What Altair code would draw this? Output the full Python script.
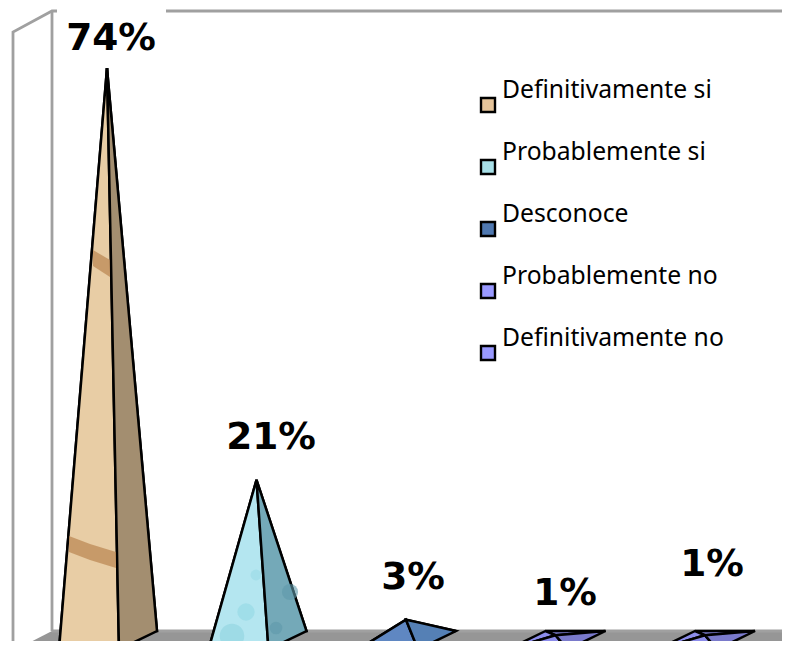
import altair as alt
import pandas as pd

categories = ["Definitivamente si", "Probablemente si", "Desconoce", "Probablemente no", "Definitivamente no"]
values = [74, 21, 3, 1, 1]
left_colors = ["#E8CDA5", "#B4E6F0", "#5F87C2", "#8C8CEA", "#8C8CEA"]
right_colors = ["#A38E70", "#74A9B8", "#5580B5", "#7A7ACB", "#7A7ACB"]
legend_colors = ["#E6C49A", "#A8E0E8", "#4F78B0", "#9999FF", "#9999FF"]
value_labels = ["74%", "21%", "3%", "1%", "1%"]
label_x = [111, 271, 413, 565, 712]
label_y = [50, 449, 589, 605, 576]

W, H = 774, 633
xs = alt.Scale(domain=[8, 782], range=[0, W])
ys = alt.Scale(domain=[641, 8], range=[H, 0])
X = alt.X("x:Q", scale=xs, axis=None)
Y = alt.Y("y:Q", scale=ys, axis=None)
Y2 = alt.Y2("y2:Q")


def tri(pid, fill, a, b, c):
    pts = sorted([a, b, c])
    (x0, y0), (x1, y1), (x2, y2) = pts
    mid = y0 + (y2 - y0) * (x1 - x0) / (x2 - x0)
    return [
        dict(poly=pid, fill=fill, x=x0, y=y0, y2=y0),
        dict(poly=pid, fill=fill, x=x1, y=y1, y2=mid),
        dict(poly=pid, fill=fill, x=x2, y=y2, y2=y2),
    ]


back_rows, front_rows = [], []
for i, v in enumerate(values):
    rx = 157 + 149.5 * i
    R = (rx, 631.0)
    B = (rx - 60, 631.0)
    F = (rx - 38, 649.5)
    L = (rx - 98, 649.5)
    A = (rx - 50, 643 - 7.77 * v)
    back_rows += tri(f"{i}a", right_colors[i], B, A, R)
    back_rows += tri(f"{i}b", left_colors[i], L, B, A)
    front_rows += tri(f"{i}c", left_colors[i], L, A, F)
    front_rows += tri(f"{i}d", right_colors[i], A, F, R)

face = dict(stroke="black", strokeWidth=2.5, clip=True, interpolate="linear")
enc = dict(x=X, y=Y, y2=Y2, detail="poly:N", color=alt.Color("fill:N", scale=None))
back = alt.Chart(pd.DataFrame(back_rows)).mark_area(**face).encode(**enc)
front = alt.Chart(pd.DataFrame(front_rows)).mark_area(**face).encode(**enc)

floor = alt.Chart(pd.DataFrame({
    "x": [17, 52, 775, 790], "y": [649, 631, 631, 631], "y2": [649, 649, 649, 636],
})).mark_area(color="#969696", clip=True).encode(x=X, y=Y, y2=Y2)

walls = alt.Chart(pd.DataFrame({
    "g": ["a"] * 4 + ["b"] * 2 + ["c"] * 2 + ["d"] * 2,
    "o": [0, 1, 2, 3, 0, 1, 0, 1, 0, 1],
    "x": [13, 13, 52, 57, 52, 52, 166, 790, 52, 790],
    "y": [649, 32, 11, 11, 11, 631, 11, 11, 631, 631],
})).mark_line(color="#A0A0A0", strokeWidth=2.8, clip=True).encode(
    x=X, y=Y, detail="g:N", order="o:Q")

edge = alt.Chart(pd.DataFrame({"x": [775, 790], "y": [649, 636]})).mark_line(
    color="black", strokeWidth=2.5, clip=True).encode(x=X, y=Y)

bands = alt.Chart(pd.DataFrame([
    dict(poly="b1", x=93, y=250, y2=266), dict(poly="b1", x=110, y=260, y2=277),
    dict(poly="b2", x=69, y=536, y2=552), dict(poly="b2", x=90, y=544, y2=560),
    dict(poly="b2", x=116, y=552, y2=568),
])).mark_area(color="#B98550", opacity=0.7, clip=True).encode(x=X, y=Y, y2=Y2, detail="poly:N")

bubbles = alt.Chart(pd.DataFrame({
    "x": [232, 246, 256, 276, 290],
    "y": [636, 612, 575, 628, 592],
    "r": [600, 300, 120, 160, 260],
    "c": ["#8FD3E0", "#93D8E4", "#9ADBE6", "#5F99AA", "#5F99AA"],
})).mark_circle(opacity=0.6, clip=True).encode(
    x=X, y=Y, size=alt.Size("r:Q", scale=None), color=alt.Color("c:N", scale=None))

labels = alt.Chart(pd.DataFrame({"x": label_x, "y": label_y, "t": value_labels})).mark_text(
    font="DejaVu Sans", fontWeight="bold", fontSize=37.5, align="center", baseline="alphabetic", color="black",
).encode(x=X, y=Y, text="t:N")

legend_df = pd.DataFrame({
    "t": categories, "c": legend_colors,
    "x": [488] * 5, "xt": [502] * 5,
    "y": [105 + 62 * i for i in range(5)],
    "yt": [98 + 62 * i for i in range(5)],
})
legend_sym = alt.Chart(legend_df).mark_square(size=196, stroke="black", strokeWidth=2.4, opacity=1).encode(
    x=X, y=Y, color=alt.Color("c:N", scale=None))
legend_txt = alt.Chart(legend_df).mark_text(
    font="Noto Sans", fontSize=24.7, align="left", baseline="alphabetic", color="black",
).encode(x=alt.X("xt:Q", scale=xs, axis=None), y=alt.Y("yt:Q", scale=ys, axis=None), text="t:N")

chart = alt.layer(floor, walls, edge, back, front, bands, bubbles, labels, legend_sym, legend_txt).properties(
    width=W, height=H, padding=0, autosize=alt.AutoSizeParams(type="none"),
).configure_view(stroke=None)

chart.save("out.html", embed_options={"renderer": "svg", "actions": False})
